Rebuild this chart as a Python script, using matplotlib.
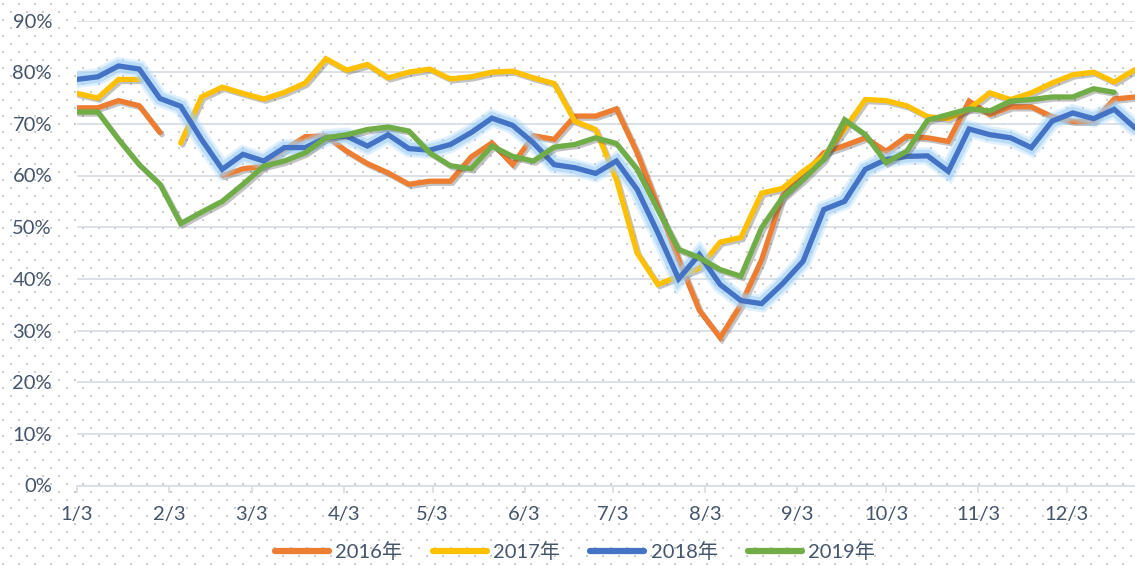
import numpy as np
import matplotlib
matplotlib.use("Agg")
import matplotlib.pyplot as plt
import matplotlib.patheffects as pe
from matplotlib.lines import Line2D
from matplotlib.ticker import PercentFormatter

plt.rcParams['font.family'] = ['Lato', 'Noto Sans CJK SC', 'DejaVu Sans']

# ==========================================================
# Données (hebdomadaires, %)
# ==========================================================
nan = np.nan

tick_labels = ["1/3", "2/3", "3/3", "4/3", "5/3", "6/3",
               "7/3", "8/3", "9/3", "10/3", "11/3", "12/3"]
tick_days = [0, 31, 59, 90, 120, 151, 181, 212, 243, 273, 304, 334]

series_names = ["2016年", "2017年", "2018年", "2019年"]

y2016 = [73.1, 73.1, 74.5, 73.5, 68.3, nan, nan, 60.0, 61.3, 61.8,
         65.0, 67.5, 67.7, 64.7, 62.3, 60.5, 58.3, 58.9, 58.9, 63.6,
         66.3, 62.1, 67.7, 67.0, 71.5, 71.5, 72.9, 64.4, 54.1, 43.7,
         33.9, 28.6, 35.0, 43.7, 56.0, 59.9, 64.4, 65.8, 67.3, 64.7,
         67.6, 67.3, 66.6, 74.4, 71.8, 73.3, 73.3, 71.4, 70.5, 70.5,
         74.8, 75.2]

y2017 = [75.9, 75.0, 78.6, 78.6, nan, 66.3, 75.2, 77.1, 75.9, 74.8,
         76.1, 77.9, 82.6, 80.4, 81.5, 78.9, 80.0, 80.6, 78.7, 79.1,
         80.0, 80.2, 78.9, 77.8, 70.5, 68.9, 59.2, 45.0, 38.9, 40.5,
         42.1, 47.1, 48.0, 56.6, 57.5, 60.8, 63.7, 69.0, 74.7, 74.5,
         73.5, 71.4, 71.0, 72.9, 76.0, 74.7, 76.0, 77.9, 79.5, 80.0,
         78.1, 80.5]

y2018 = [78.6, 79.1, 81.2, 80.6, 74.9, 73.4, 67.0, 61.2, 64.1, 62.8,
         65.4, 65.4, 67.3, 67.6, 65.7, 67.9, 65.2, 64.9, 66.0, 68.3,
         71.1, 69.7, 66.3, 62.1, 61.5, 60.4, 62.8, 57.3, 48.9, 40.0,
         44.7, 38.9, 35.8, 35.2, 39.0, 43.4, 53.4, 55.0, 61.2, 63.1,
         63.7, 63.8, 60.8, 69.0, 67.9, 67.3, 65.4, 70.5, 72.1, 71.0,
         72.8, 69.2]

y2019 = [72.3, 72.3, 67.0, 62.1, 58.3, 50.7, 52.9, 55.0, 58.3, 61.8,
         62.8, 64.4, 67.3, 67.9, 68.9, 69.4, 68.6, 64.4, 61.9, 61.3,
         65.7, 63.7, 62.8, 65.5, 66.0, 67.3, 66.2, 61.2, 53.4, 45.7,
         44.1, 41.8, 40.5, 49.9, 55.7, 59.2, 63.1, 70.8, 67.9, 62.5,
         64.7, 70.7, 71.8, 72.9, 72.5, 74.4, 74.7, 75.2, 75.2, 76.8,
         76.1, nan]

couleurs = ["#ED7D31", "#FFC000", "#4472C4", "#70AD47"]
texte = "#44546A"
grille = "#D9DEE6"

jours = np.arange(len(y2016)) * 7

# ==========================================================
# Figure
# ==========================================================
W, H = 1135, 565
fig = plt.figure(figsize=(W / 100, H / 100), dpi=100)
fig.patch.set_facecolor("white")

# fond pointillé
bg = fig.add_axes([0, 0, 1, 1], zorder=-1)
bg.set_xlim(0, W)
bg.set_ylim(H, 0)
bg.axis("off")
rows = np.arange(4, H, 8)
px, py = [], []
for r, yy in enumerate(rows):
    xx = np.arange(3 + 8 * (r % 2), W, 16)
    px.extend(xx)
    py.extend([yy] * len(xx))
bg.scatter(px, py, s=1.5, color="#CDCDCD", marker="s", linewidths=0)

ax = fig.add_axes([77 / W, 1 - 485.5 / H, 1 - 77 / W, 465 / H])
ax.set_facecolor("none")

ombre = [pe.SimpleLineShadow(offset=(1.5, -1.5), shadow_color="#505050", alpha=0.35),
         pe.Normal()]
lueur = [pe.Stroke(linewidth=12.5, foreground="#A9D6FA", alpha=0.35),
         pe.Stroke(linewidth=9, foreground="#9CCFF7", alpha=0.55),
         pe.Normal()]

for ys, c, nom in zip([y2016, y2017, y2018, y2019], couleurs, series_names):
    ax.plot(jours, ys, color=c, linewidth=3.8, label=nom,
            solid_joinstyle="miter", solid_capstyle="round",
            path_effects=lueur if nom == "2018年" else ombre)

ax.set_xlim(0, 357)
ax.set_ylim(0, 90)
ax.set_yticks(np.arange(0, 91, 10))
ax.yaxis.set_major_formatter(PercentFormatter(xmax=100, decimals=0))
ax.set_xticks(tick_days)
ax.set_xticklabels(tick_labels)

ax.grid(axis="y", color=grille, linewidth=1.3)
ax.set_axisbelow(True)
for s in ["top", "right", "left"]:
    ax.spines[s].set_visible(False)
ax.spines["bottom"].set_color(grille)
ax.spines["bottom"].set_linewidth(1.3)

ax.tick_params(axis="x", direction="out", length=5, width=1.3, color=grille,
               labelsize=14.5, labelcolor=texte, pad=10)
ax.tick_params(axis="y", length=0, labelsize=14.5, labelcolor=texte, pad=18)

poignees = [Line2D([0], [0], color=c, linewidth=4.5, solid_capstyle="round")
            for c in couleurs]
fig.legend(poignees, series_names, loc="center",
           bbox_to_anchor=(575 / W, 1 - 552 / H), ncol=4, frameon=False,
           fontsize=14.5, labelcolor=texte, handlelength=2.7,
           handletextpad=0.3, columnspacing=1.5)

fig.savefig("out.png", dpi=100)
